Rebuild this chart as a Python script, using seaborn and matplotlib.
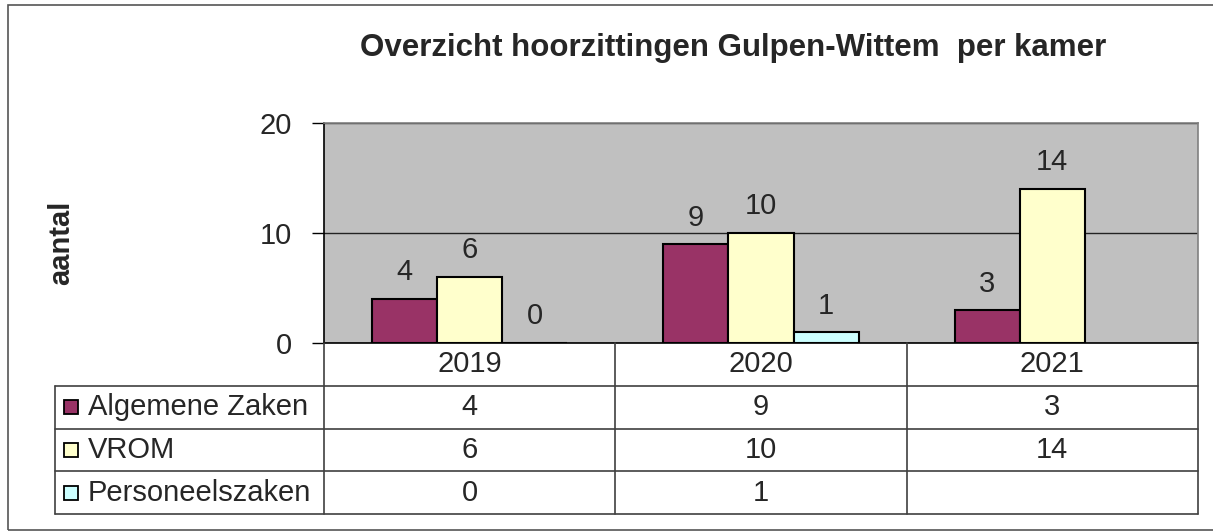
import numpy as np
import pandas as pd
import seaborn as sns
import matplotlib.pyplot as plt
from matplotlib.patches import Rectangle

# data
years = ["2019", "2020", "2021"]
kamers = ["Algemene Zaken", "VROM", "Personeelszaken"]
algemene_zaken = [4, 9, 3]
vrom = [6, 10, 14]
personeelszaken = [0, 1, np.nan]
colors = ["#993366", "#FFFFCC", "#CCFFFF"]

W, H = 1213, 531


def px_box(x0, y0, x1, y1):
    # pixel box (origin top-left) -> figure fraction [l, b, w, h]
    return [x0 / W, 1 - y1 / H, (x1 - x0) / W, (y1 - y0) / H]


def main():
    sns.set_style("white")
    plt.rcParams['font.family'] = ['Liberation Sans', 'DejaVu Sans']
    fs = 21

    df = pd.DataFrame({
        "jaar": years * 3,
        "kamer": np.repeat(kamers, 3),
        "aantal": algemene_zaken + vrom + personeelszaken,
    })

    fig = plt.figure(figsize=(W / 100, H / 100), dpi=100)
    fig.patches.append(Rectangle((8 / W, 1 - 530 / H), 1.2, (530 - 5) / H,
                                 transform=fig.transFigure, fill=False,
                                 edgecolor="#555555", linewidth=1.2))

    ax = fig.add_axes(px_box(324, 123, 1198, 343))
    sns.barplot(data=df, x="jaar", y="aantal", hue="kamer",
                hue_order=kamers, palette=colors, saturation=1,
                width=0.67, gap=0, edgecolor="black", linewidth=1.5,
                ax=ax, legend=False)
    for cont in ax.containers:
        ax.bar_label(cont, fmt="%g", padding=9, fontsize=fs)

    ax.set_facecolor("#C0C0C0")
    ax.set_ylim(0, 20)
    ax.set_xlim(-0.5, 2.5)
    ax.set_yticks([0, 10, 20])
    ax.set_xticks([])
    ax.set_xlabel("")
    ax.set_ylabel("")
    ax.yaxis.grid(True, color="#222222", linewidth=1)
    ax.set_axisbelow(True)
    ax.tick_params(axis="y", length=9, width=1, color="black",
                   labelsize=fs, pad=14, left=True)
    for side in ["left", "bottom"]:
        ax.spines[side].set_color("black")
        ax.spines[side].set_linewidth(1.2)
    for side in ["top", "right"]:
        ax.spines[side].set_color("#808080")
        ax.spines[side].set_linewidth(1.2)

    fig.text(733 / W, 1 - 48 / H,
             "Overzicht hoorzittingen Gulpen-Wittem  per kamer",
             ha="center", va="center", fontsize=22.5, fontweight="bold")
    fig.text(61 / W, 1 - 243 / H, "aantal", rotation=90, ha="center",
             va="center", fontsize=fs, fontweight="bold")

    # data table under the chart, sharing the category scale
    unit = (1198 - 324) / 3
    left = -0.5 - (324 - 55) / unit
    tax = fig.add_axes(px_box(55, 343, 1198, 514))
    tax.set_xlim(left, 2.5)
    tax.set_ylim(4, 0)
    tax.axis("off")
    lc = "#404040"
    for y in [1, 2, 3, 4]:
        tax.plot([left, 2.5], [y, y], color=lc, lw=1.2, clip_on=False)
    for x in [-0.5, 0.5, 1.5, 2.5]:
        tax.plot([x, x], [0, 4], color=lc, lw=1.2, clip_on=False)
    tax.plot([left, left], [1, 4], color=lc, lw=1.2, clip_on=False)

    for i, yr in enumerate(years):
        tax.text(i, 0.5, yr, ha="center", va="center", fontsize=fs)
    series = [algemene_zaken, vrom, personeelszaken]
    for r, (name, vals, col) in enumerate(zip(kamers, series, colors)):
        yc = r + 1.5
        tax.plot(left + 16 / unit, yc, marker="s", markersize=10.5,
                 markerfacecolor=col, markeredgecolor="black",
                 markeredgewidth=1.3, clip_on=False)
        tax.text(left + 33 / unit, yc, name, ha="left", va="center",
                 fontsize=fs)
        for i, v in enumerate(vals):
            if not np.isnan(v):
                tax.text(i, yc, f"{v:g}", ha="center", va="center",
                         fontsize=fs)

    fig.savefig("out.png", dpi=100)


if __name__ == '__main__':
    main()
